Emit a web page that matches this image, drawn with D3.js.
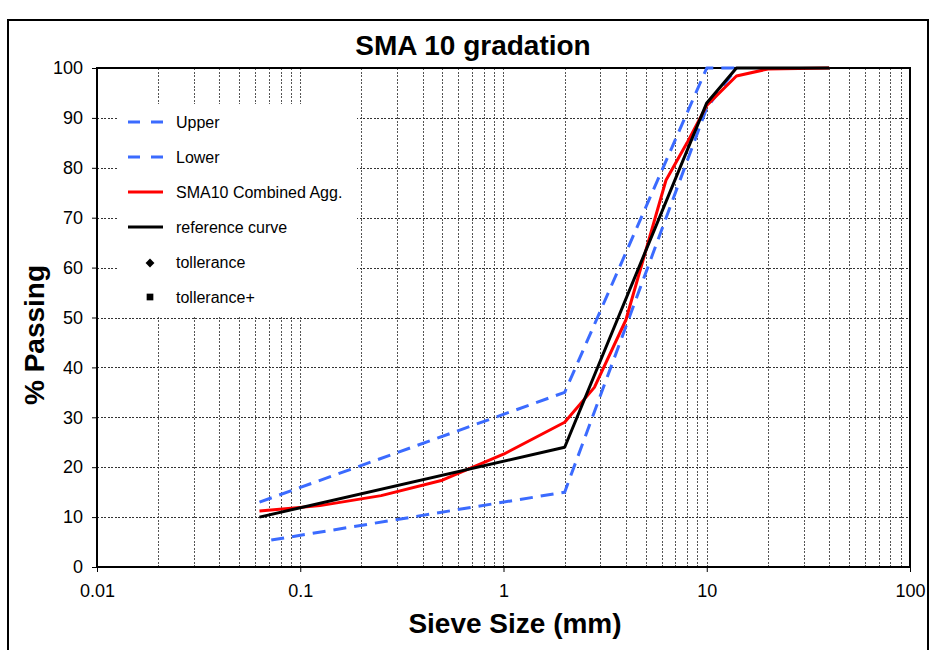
<!DOCTYPE html>
<html>
<head>
<meta charset="utf-8">
<script src="https://cdn.jsdelivr.net/npm/d3@7/dist/d3.min.js"></script>
<style>
  html, body { margin: 0; padding: 0; background: #fff; }
  svg { display: block; font-family: "Liberation Sans", Arial, sans-serif; }
</style>
</head>
<body>
<svg id="chart" width="930" height="650"></svg>
<script>
// Grading envelope and curves: sieve sizes (mm) and % passing
const upperSieve = [0.063, 2, 10, 14];
const upperPass  = [13, 35, 100, 100];

const lowerSieve = [0.072, 2, 10, 14];
const lowerPass  = [5.4, 15, 92, 100];

const combinedSieve = [0.063, 0.125, 0.25, 0.5, 1, 2, 2.8, 4, 6.3, 8, 10, 14, 20, 40];
const combinedPass  = [11.2, 12.3, 14.3, 17.4, 22.6, 29, 36, 49.5, 77.5, 85, 92.5, 98.4, 99.8, 100];

const referenceSieve = [0.063, 2, 10, 14, 40];
const referencePass  = [10, 24, 93, 100, 100];

// Tolerance series (shown in the legend only)
const toleranceSieve = [];
const tolerancePass = [];
const tolerancePlusSieve = [];
const tolerancePlusPass = [];

const xTickValues = [0.01, 0.1, 1, 10, 100];
const xTickLabels = ["0.01", "0.1", "1", "10", "100"];
const yTickValues = [0, 10, 20, 30, 40, 50, 60, 70, 80, 90, 100];

const legendLabels = ["Upper", "Lower", "SMA10 Combined Agg.", "reference curve", "tollerance", "tollerance+"];

const svg = d3.select("#chart");
const plotLeft = 97, plotRight = 910, plotTop = 68, plotBottom = 567;

const x = d3.scaleLog().domain([0.01, 100]).range([plotLeft, plotRight]);
const y = d3.scaleLinear().domain([0, 100]).range([plotBottom, plotTop]);

// Outer frame
svg.append("rect")
  .attr("x", 8).attr("y", 20).attr("width", 920).attr("height", 650)
  .attr("fill", "none").attr("stroke", "#000").attr("stroke-width", 2);

// Title
svg.append("text")
  .attr("x", 473).attr("y", 55)
  .attr("text-anchor", "middle")
  .attr("font-size", 28).attr("font-weight", "bold")
  .text("SMA 10 gradation");

// Grid lines
const grid = svg.append("g").attr("stroke", "#333").attr("stroke-width", 1)
  .attr("stroke-dasharray", "2,1.5").attr("shape-rendering", "crispEdges");

const minorX = [];
for (let e = -2; e < 2; e++) {
  for (let m = 1; m <= 9; m++) {
    const v = m * Math.pow(10, e);
    if (v > 0.01 && v < 100) minorX.push(v);
  }
}
grid.selectAll("line.vx").data(minorX).join("line")
  .attr("class", "vx")
  .attr("x1", d => Math.round(x(d)) + 0.5).attr("x2", d => Math.round(x(d)) + 0.5)
  .attr("y1", plotTop).attr("y2", plotBottom)
  .attr("stroke", "#555");

grid.selectAll("line.hy").data(yTickValues.slice(1, -1)).join("line")
  .attr("class", "hy")
  .attr("x1", plotLeft).attr("x2", plotRight)
  .attr("y1", d => Math.round(y(d)) + 0.5).attr("y2", d => Math.round(y(d)) + 0.5);

// Axes
const xAxis = d3.axisBottom(x)
  .tickValues(xTickValues)
  .tickFormat((d, i) => xTickLabels[i])
  .tickSize(5).tickPadding(12);
const gx = svg.append("g").attr("transform", `translate(0,${plotBottom})`).call(xAxis);
gx.select(".domain").remove();
gx.selectAll("text").attr("font-size", 18).attr("font-family", "Liberation Sans, Arial, sans-serif").attr("fill", "#000");

const yAxis = d3.axisLeft(y)
  .tickValues(yTickValues)
  .tickSize(5).tickPadding(9);
const gy = svg.append("g").attr("transform", `translate(${plotLeft},0)`).call(yAxis);
gy.select(".domain").remove();
gy.selectAll("text").attr("font-size", 18).attr("font-family", "Liberation Sans, Arial, sans-serif").attr("fill", "#000");

// Plot border
svg.append("rect")
  .attr("x", plotLeft).attr("y", plotTop).attr("width", plotRight - plotLeft).attr("height", plotBottom - plotTop)
  .attr("fill", "none").attr("stroke", "#000").attr("stroke-width", 2);

// Axis titles
svg.append("text")
  .attr("x", 515).attr("y", 633)
  .attr("text-anchor", "middle")
  .attr("font-size", 28).attr("font-weight", "bold")
  .text("Sieve Size (mm)");

svg.append("text")
  .attr("transform", "translate(44,335) rotate(-90)")
  .attr("text-anchor", "middle")
  .attr("font-size", 28).attr("font-weight", "bold")
  .text("% Passing");

// Legend background (hides grid behind it)
svg.append("rect")
  .attr("x", 118).attr("y", 104).attr("width", 239).attr("height", 212)
  .attr("fill", "#fff");

// Series
const line = d3.line().x(d => x(d[0])).y(d => y(d[1]));
const zip = (a, b) => a.map((v, i) => [v, b[i]]);

const series = [
  { sx: upperSieve, sy: upperPass, color: "#3B6BFF", dash: "13,8" },
  { sx: lowerSieve, sy: lowerPass, color: "#3B6BFF", dash: "13,8" },
  { sx: combinedSieve, sy: combinedPass, color: "#FF0000", dash: null },
  { sx: referenceSieve, sy: referencePass, color: "#000000", dash: null }
];

svg.append("g").selectAll("path").data(series).join("path")
  .attr("d", s => line(zip(s.sx, s.sy)))
  .attr("fill", "none")
  .attr("stroke", s => s.color)
  .attr("stroke-width", 3)
  .attr("stroke-linejoin", "round")
  .attr("stroke-dasharray", s => s.dash);

// Tolerance points (diamonds and squares)
svg.append("g").selectAll("path").data(zip(toleranceSieve, tolerancePass)).join("path")
  .attr("transform", d => `translate(${x(d[0])},${y(d[1])})`)
  .attr("d", d3.symbol(d3.symbolDiamond2, 50));
svg.append("g").selectAll("path").data(zip(tolerancePlusSieve, tolerancePlusPass)).join("path")
  .attr("transform", d => `translate(${x(d[0])},${y(d[1])})`)
  .attr("d", d3.symbol(d3.symbolSquare, 45));

// Legend
const legend = svg.append("g");
const rowY = i => 122 + i * 35;
legendLabels.forEach((label, i) => {
  const g = legend.append("g").attr("transform", `translate(0,${rowY(i)})`);
  if (i < 4) {
    const s = series[i];
    g.append("line")
      .attr("x1", 128).attr("x2", 163).attr("y1", 0).attr("y2", 0)
      .attr("stroke", s.color).attr("stroke-width", 3)
      .attr("stroke-dasharray", s.dash ? "12,11" : null);
  } else if (i === 4) {
    g.append("path").attr("transform", "translate(150,1)")
      .attr("d", d3.symbol(d3.symbolDiamond2, 50));
  } else {
    g.append("path").attr("transform", "translate(150,0)")
      .attr("d", d3.symbol(d3.symbolSquare, 45));
  }
  g.append("text")
    .attr("x", 176).attr("y", 6)
    .attr("font-size", 16)
    .text(label);
});
</script>
</body>
</html>
